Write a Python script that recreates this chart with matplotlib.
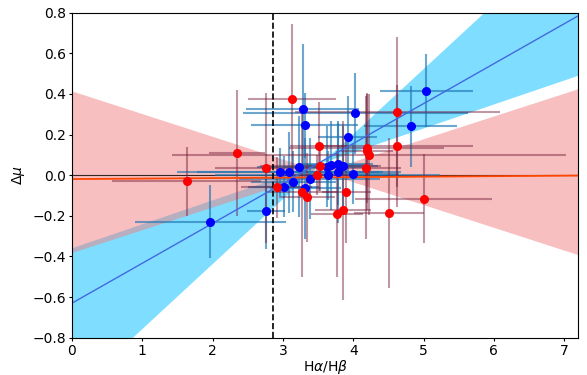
import numpy as np
import matplotlib
matplotlib.use('Agg')
import matplotlib.pyplot as plt

# blue sample
blue_x = [1.97, 2.76, 2.96, 3.01, 3.08, 3.15, 3.23, 3.28, 3.31, 3.32, 3.38,
          3.63, 3.64, 3.69, 3.78, 3.78, 3.85, 3.92, 4.00, 4.03, 4.82, 5.04]
blue_y = [-0.229, -0.175, 0.016, -0.057, 0.014, -0.032, 0.042, 0.324, 0.245, -0.065, -0.017,
          0.042, 0.000, 0.048, 0.055, 0.017, 0.043, 0.190, 0.006, 0.305, 0.240, 0.416]
blue_xerr = [1.07, 0.27, 1.47, 0.50, 1.30, 0.60, 0.60, 0.80, 0.76, 0.50, 1.00,
             0.60, 1.60, 0.50, 0.50, 0.90, 0.50, 0.42, 0.65, 1.60, 0.66, 0.66]
blue_yerr = [0.18, 0.19, 0.12, 0.15, 0.20, 0.15, 0.25, 0.32, 0.16, 0.25, 0.20,
             0.20, 0.12, 0.22, 0.20, 0.25, 0.20, 0.20, 0.15, 0.20, 0.20, 0.18]

# red sample
red_x = [1.63, 2.35, 2.76, 2.91, 3.13, 3.27, 3.34, 3.48, 3.51, 3.53, 3.77,
         3.85, 3.90, 4.18, 4.19, 4.20, 4.22, 4.51, 4.62, 4.63, 5.00]
red_y = [-0.029, 0.109, 0.035, -0.060, 0.375, -0.081, -0.109, 0.002, 0.142, 0.043, -0.190,
         -0.172, -0.082, 0.038, 0.132, 0.117, 0.102, -0.186, 0.142, 0.313, -0.116]
red_xerr = [1.06, 0.40, 0.72, 0.50, 0.62, 0.50, 0.40, 0.50, 0.41, 0.86, 0.37,
            0.40, 0.35, 0.50, 1.10, 0.37, 2.80, 0.50, 1.08, 1.46, 0.98]
red_yerr = [0.17, 0.31, 0.37, 0.15, 0.37, 0.42, 0.22, 0.10, 0.22, 0.12, 0.31,
            0.44, 0.25, 0.35, 0.27, 0.29, 0.30, 0.37, 0.30, 0.37, 0.22]

# fits (intercept, slope) and the two band edges for each sample
blue_fit = [-0.63, 0.1965]
blue_band = [[-1.078, 0.32], [-0.36, 0.118]]
red_fit = [-0.019, 0.0024]
red_band = [[0.415, -0.112], [-0.38, 0.112]]
case_b = 2.86

fig, ax = plt.subplots(figsize=(5.87, 3.75), dpi=100)
fig.subplots_adjust(left=0.1226, right=0.985, top=0.966, bottom=0.0995)

xx = np.linspace(0, 7.2, 200)
ax.fill_between(xx, blue_band[0][0] + blue_band[0][1] * xx,
                blue_band[1][0] + blue_band[1][1] * xx,
                color='deepskyblue', alpha=0.5, lw=0)
ax.fill_between(xx, red_band[0][0] + red_band[0][1] * xx,
                red_band[1][0] + red_band[1][1] * xx,
                color='lightcoral', alpha=0.5, lw=0)

ax.axhline(0, color='k', lw=0.8, alpha=0.8)

ax.errorbar(blue_x, blue_y, xerr=blue_xerr, yerr=blue_yerr, fmt='none',
            ecolor='C0', alpha=0.65, elinewidth=1.5)
ax.errorbar(red_x, red_y, xerr=red_xerr, yerr=red_yerr, fmt='none',
            ecolor=(0.45, 0.1, 0.22), alpha=0.45, elinewidth=1.5)

ax.plot(xx, red_fit[0] + red_fit[1] * xx, color='orangered', lw=1.3)
ax.plot(xx, blue_fit[0] + blue_fit[1] * xx, color='royalblue', lw=1)

ax.plot(blue_x, blue_y, 'o', color='blue', ms=5.5, zorder=5)
ax.plot(red_x, red_y, 'o', color='red', ms=5.5, zorder=5)

ax.axvline(case_b, color='k', ls='--', lw=1.2)

ax.set_xlim(0, 7.2)
ax.set_ylim(-0.8, 0.8)
ax.tick_params(length=2.5, pad=2)
ax.set_xlabel(r'H$\alpha$/H$\beta$', labelpad=0)
ax.set_ylabel(r'$\Delta\mu$', labelpad=4)

plt.savefig('out.png', dpi=100)
